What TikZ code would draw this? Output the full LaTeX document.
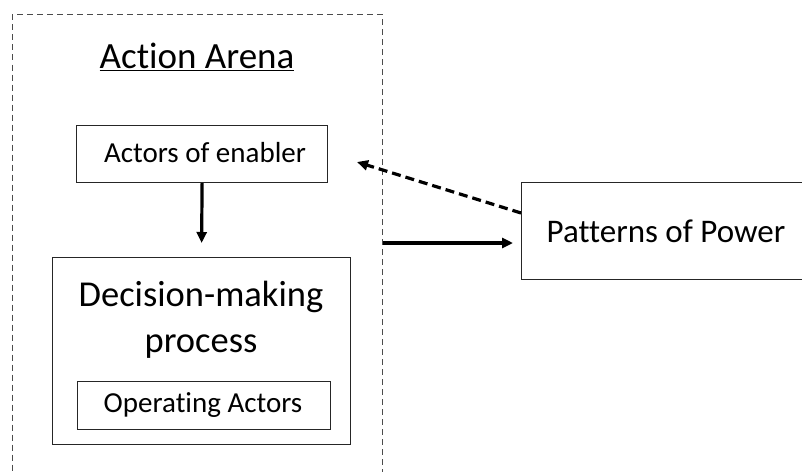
\documentclass[tikz,border=0pt]{standalone}
\usepackage{fontspec}
\setmainfont{Carlito}[RawFeature={-liga;-dlig;-clig}]
\usetikzlibrary{arrows.meta,calc}
\begin{document}
\begin{tikzpicture}[x=1pt,y=-1pt,
  box/.style={draw=black!85, line width=1.2pt, inner sep=0pt, anchor=north west},
  arr/.style={line width=3.2pt, -{Triangle[length=11pt,width=10pt]}},
  darr/.style={line width=3.2pt, dash pattern=on 9pt off 5pt, -{Triangle[length=11pt,width=10pt]}}]
\useasboundingbox (0,0) rectangle (802,471);
\clip (0,0) rectangle (802,471);
\fill[white] (0,0) rectangle (802,471);
% outer dashed arena
\node[draw=black!70, line width=1pt, dash pattern=on 6pt off 4pt, inner sep=0pt,
      anchor=north west, minimum width=370pt, minimum height=480pt] (arena) at (12,14) {};
\node[font=\fontsize{37}{40}\selectfont] (title) at (197,57) {\underline{Action Arena}};
% actors of enabler
\node[box, minimum width=251pt, minimum height=57pt] (enabler) at (76,125) {};
\node[font=\fontsize{29}{34}\selectfont] (enablertxt) at (205,153) {Actors of enabler};
% decision-making
\node[box, minimum width=298pt, minimum height=187pt] (decision) at (52,257) {};
\node[font=\fontsize{36.5}{46}\selectfont, align=center] (dectxt) at (201,320) {Decision-making\\process};
\node[box, minimum width=253pt, minimum height=48pt] (operating) at (77,381) {};
\node[font=\fontsize{29}{34}\selectfont] (optxt) at (203,405) {Operating Actors};
% patterns of power
\node[box, minimum width=320pt, minimum height=97pt] (patterns) at (521,182) {};
\node[font=\fontsize{33}{38}\selectfont] (pattxt) at (666,231) {Patterns of Power};
% connectors
\coordinate (dtip) at (357,162);
\draw[arr] (enabler.south) -- ($(decision.north)+(0,-14)$);
\draw[arr, shorten >=8pt] (arena.east |- 0,243) -- (patterns.west |- 0,243);
\draw[darr] (patterns.west |- 0,213) -- (dtip);
\end{tikzpicture}
\end{document}
